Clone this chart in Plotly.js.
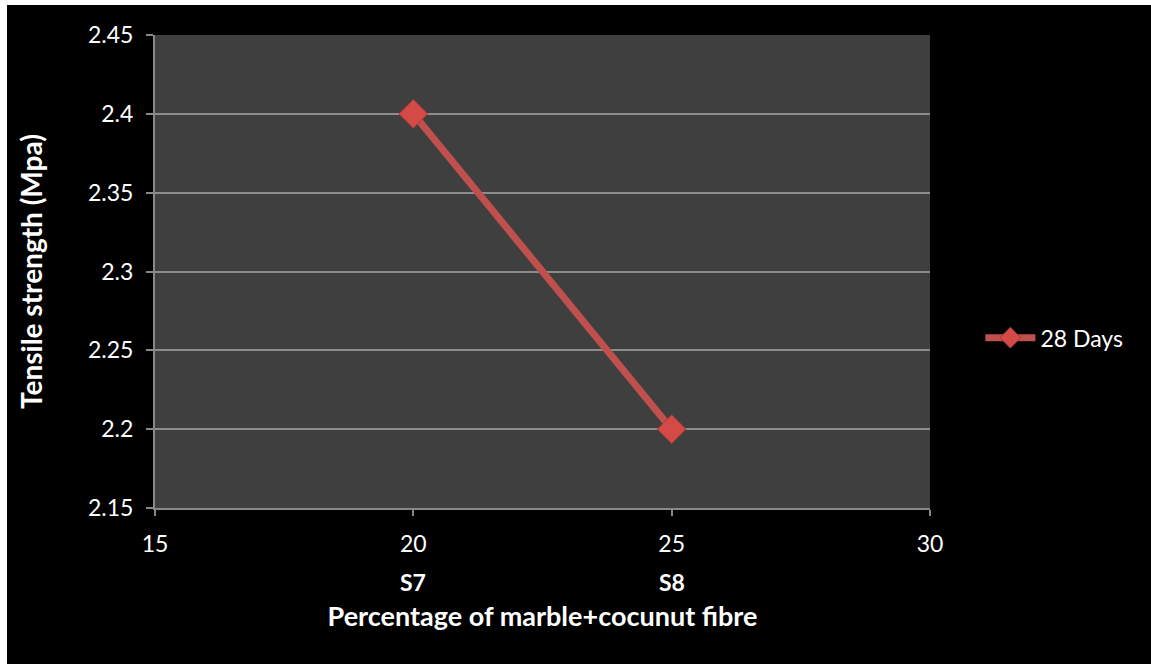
<!DOCTYPE html>
<html><head><meta charset="utf-8">
<script src="https://cdn.plot.ly/plotly-3.0.1.min.js"></script>
<style>
html,body{margin:0;padding:0;background:#fff;overflow:hidden;}
#chart{position:absolute;left:7px;top:5px;width:1144px;height:659px;}
</style></head>
<body><div id="chart"></div>
<script>
const xValues = [20, 25];
const tensile28 = [2.4, 2.2];
const sampleLabels = ['S7', 'S8'];
const seriesName = '28 Days';

const FONT = 'Lato, "Open Sans", sans-serif';
const trace = {
  x: xValues, y: tensile28, name: seriesName, type: 'scatter', mode: 'lines+markers',
  line: {color: '#c0504d', width: 7},
  marker: {symbol: 'diamond', size: 22, color: '#d44a47', line: {color: '#a33a38', width: 1}}
};
const annotations = sampleLabels.map((s, i) => ({
  x: xValues[i], y: 0, xref: 'x', yref: 'paper', yanchor: 'middle', yshift: -74, text: '<b>' + s + '</b>',
  showarrow: false, font: {family: FONT, size: 23, color: '#fff'}
}));
const layout = {
  width: 1144, height: 659,
  paper_bgcolor: '#000', plot_bgcolor: '#3f3f3f',
  margin: {l: 148, r: 221, t: 30, b: 156},
  showlegend: true,
  legend: {x: 1.065, y: 0.36, xanchor: 'left', yanchor: 'middle', font: {family: FONT, size: 23, color: '#fff'}, bgcolor: 'rgba(0,0,0,0)', itemwidth: 50},
  xaxis: {range: [15, 30], dtick: 5, tick0: 15, showgrid: false, zeroline: false,
    showline: true, linecolor: '#888', linewidth: 2, ticks: 'outside', ticklen: 6, tickcolor: '#888', tickwidth: 2,
    ticklabelstandoff: 8,
    tickfont: {family: FONT, size: 23, color: '#fff'},
    title: {text: '<b>Percentage of marble+cocunut fibre</b>', font: {family: FONT, size: 27, color: '#fff'}, standoff: 52}},
  yaxis: {range: [2.15, 2.45], dtick: 0.05, tick0: 2.15, showgrid: true, gridcolor: '#8c8c8c', gridwidth: 2, zeroline: false,
    showline: true, linecolor: '#888', linewidth: 2, ticks: 'outside', ticklen: 7, tickcolor: '#888', tickwidth: 2,
    ticklabelstandoff: 8,
    tickformat: '~r', tickfont: {family: FONT, size: 23, color: '#fff'},
    title: {text: '<b>Tensile strength (Mpa)</b>', font: {family: FONT, size: 28, color: '#fff'}, standoff: 37}},
  annotations: annotations
};
Plotly.newPlot('chart', [trace], layout, {displayModeBar: false, staticPlot: true});
</script></body></html>
